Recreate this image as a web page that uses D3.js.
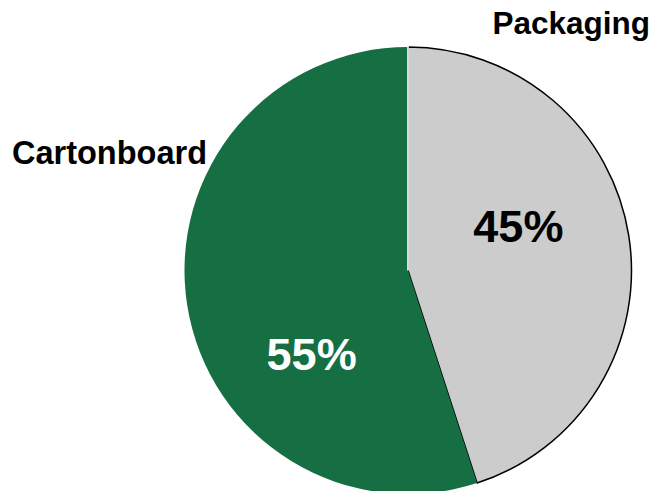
<!DOCTYPE html>
<html>
<head>
<meta charset="utf-8">
<script src="https://cdn.jsdelivr.net/npm/d3@7"></script>
<style>
  body { margin: 0; background: #fff; }
  svg { display: block; font-family: "Liberation Sans", Arial, sans-serif; }
</style>
</head>
<body>
<div id="pie"></div>
<script>
// data
const categories = ["Packaging", "Cartonboard"];
const shares = [45, 55];
const sliceColors = ["#cccccc", "#166e43"];
const valueColors = ["#000000", "#ffffff"];

const width = 655;
const height = 491;
const cx = 408;
const cy = 270.5;
const radius = 223.5;

const data = categories.map((c, i) => ({ category: c, value: shares[i] }));

const svg = d3.select("#pie")
  .append("svg")
    .attr("width", width)
    .attr("height", height)
    .attr("viewBox", [0, 0, width, height]);

const pieGen = d3.pie()
  .value(d => d.value)
  .sort(null);

const arcs = pieGen(data);

const arcGen = d3.arc()
  .innerRadius(0)
  .outerRadius(radius);

const labelArc = d3.arc()
  .innerRadius(radius * 0.5)
  .outerRadius(radius * 0.5);

const innerChart = svg.append("g")
  .attr("transform", `translate(${cx}, ${cy})`);

/*    slices    */
innerChart.selectAll(".slice")
  .data(arcs)
  .join("path")
    .attr("class", "slice")
    .attr("d", arcGen)
    .attr("fill", (d, i) => sliceColors[i])
    .attr("stroke", (d, i) => i === 0 ? "#000" : "none")
    .attr("stroke-width", 1.5)
    .attr("stroke-linejoin", "round");

// white separator along the start edge of the first slice
const a0 = arcs[0].startAngle;
innerChart.append("line")
  .attr("x1", 0).attr("y1", 0)
  .attr("x2", radius * Math.sin(a0) ).attr("y2", -radius * Math.cos(a0) - 1)
  .attr("stroke", "#fff")
  .attr("stroke-width", 1.6);

/*    value labels    */
const valueOffsets = [[0, -27], [14, 67]];
innerChart.selectAll(".value")
  .data(arcs)
  .join("text")
    .attr("class", "value")
    .attr("x", (d, i) => labelArc.centroid(d)[0] + valueOffsets[i][0])
    .attr("y", (d, i) => labelArc.centroid(d)[1] + valueOffsets[i][1])
    .attr("text-anchor", "middle")
    .attr("dominant-baseline", "central")
    .attr("font-size", 45)
    .attr("font-weight", "bold")
    .attr("fill", (d, i) => valueColors[i])
    .text(d => `${d.data.value}%`);

/*    category labels    */
svg.append("text")
  .attr("x", 650)
  .attr("y", 34)
  .attr("text-anchor", "end")
  .attr("font-size", 31.5)
  .attr("font-weight", "bold")
  .text(categories[0]);

svg.append("text")
  .attr("x", 12)
  .attr("y", 164)
  .attr("text-anchor", "start")
  .attr("font-size", 32.5)
  .attr("font-weight", "bold")
  .text(categories[1]);
</script>
</body>
</html>
